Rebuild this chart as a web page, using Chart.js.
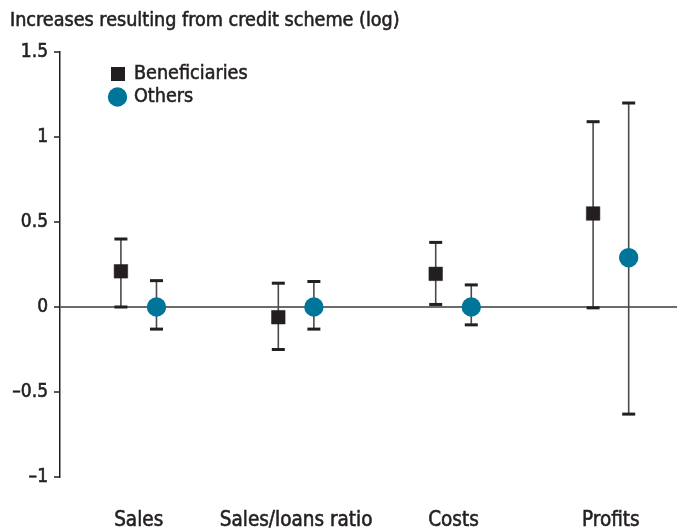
<!DOCTYPE html>
<html>
<head>
<meta charset="utf-8">
<script src="https://cdn.jsdelivr.net/npm/chart.js@4"></script>
<style>
  html, body { margin: 0; padding: 0; background: #fff; }
  #wrap { width: 677px; height: 529px; }
</style>
</head>
<body>
<div id="wrap"><canvas id="chart" width="677" height="529"></canvas></div>
<script>
// Categories and values
const categories = ["Sales", "Sales/loans ratio", "Costs", "Profits"];
const benValues = [0.21, -0.06, 0.195, 0.55];
const benLow = [0.0, -0.25, 0.015, -0.005];
const benHigh = [0.40, 0.14, 0.38, 1.09];
const othValues = [0.0, 0.0, 0.0, 0.29];
const othLow = [-0.13, -0.13, -0.105, -0.63];
const othHigh = [0.155, 0.15, 0.13, 1.20];
const yTicks = [-1, -0.5, 0, 0.5, 1, 1.5];

const FONT = "'DejaVu Sans Condensed', 'DejaVu Sans', sans-serif";
const INK = "#231f20";
const TEAL = "#00759a";
const STROKE = 0.55; // fake a medium weight
const shift = 0.113; // side-by-side offset within a category

function points(values, lo, hi, off) {
  return values.map((v, i) => ({ x: i + off, y: v, lo: lo[i], hi: hi[i] }));
}

// error bars drawn under the markers
const errorBars = {
  id: "errorBars",
  beforeDatasetsDraw(chart) {
    const { ctx, scales: { x, y } } = chart;
    ctx.save();
    chart.data.datasets.forEach((ds) => {
      ds.data.forEach((p) => {
        const px = x.getPixelForValue(p.x);
        const top = y.getPixelForValue(p.hi);
        const bot = y.getPixelForValue(p.lo);
        ctx.strokeStyle = "#4a4a4a";
        ctx.lineWidth = 1.6;
        ctx.beginPath();
        ctx.moveTo(px, top);
        ctx.lineTo(px, bot);
        ctx.stroke();
        ctx.fillStyle = INK;
        ctx.fillRect(px - 6.5, top - 1.5, 13, 3);
        ctx.fillRect(px - 6.5, bot - 1.5, 13, 3);
      });
    });
    ctx.restore();
  },
};

function text(ctx, s, x, y) {
  ctx.strokeText(s, x, y);
  ctx.fillText(s, x, y);
}

// title and legend
const labels = {
  id: "labels",
  afterDraw(chart) {
    const ctx = chart.ctx;
    ctx.save();
    ctx.fillStyle = INK;
    ctx.strokeStyle = INK;
    ctx.lineWidth = STROKE;
    ctx.textBaseline = "middle";
    ctx.textAlign = "left";
    ctx.font = "19.6px " + FONT;
    text(ctx, "Increases resulting from credit scheme (log)", 10, 21);

    ctx.font = "19.6px " + FONT;
    ctx.fillRect(111, 67, 14, 14);
    text(ctx, chart.data.datasets[0].label, 134, 74);
    ctx.fillStyle = TEAL;
    ctx.beginPath();
    ctx.arc(117.5, 97, 9.7, 0, Math.PI * 2);
    ctx.fill();
    ctx.fillStyle = INK;
    text(ctx, chart.data.datasets[1].label, 134, 97);
    ctx.restore();
  },
};

new Chart(document.getElementById("chart"), {
  type: "scatter",
  data: {
    datasets: [
      {
        label: "Beneficiaries",
        data: points(benValues, benLow, benHigh, -shift),
        pointStyle: "rect",
        pointRadius: 9.6,
        backgroundColor: INK,
        borderColor: INK,
        borderWidth: 0.5,
      },
      {
        label: "Others",
        data: points(othValues, othLow, othHigh, shift),
        pointStyle: "circle",
        pointRadius: 9.7,
        backgroundColor: TEAL,
        borderColor: TEAL,
        borderWidth: 0,
      },
    ],
  },
  options: {
    responsive: false,
    animation: false,
    layout: { autoPadding: false, padding: { top: 52, left: 0, right: 0, bottom: 0 } },
    plugins: {
      legend: { display: false },
      tooltip: { enabled: false },
      title: { display: false },
    },
    scales: {
      x: {
        type: "linear",
        min: -0.5,
        max: 3.42,
        grid: { display: false },
        border: { display: false },
        afterBuildTicks: (axis) => {
          axis.ticks = categories.map((c, i) => ({ value: i }));
        },
        afterFit: (axis) => { axis.height = 52; },
        ticks: {
          padding: 23,
          color: INK,
          textStrokeColor: INK,
          textStrokeWidth: STROKE,
          font: { family: FONT, size: 20.5 },
          maxRotation: 0,
          callback: (v) => categories[v],
        },
      },
      y: {
        min: -1,
        max: 1.5,
        afterBuildTicks: (axis) => {
          axis.ticks = yTicks.map((v) => ({ value: v }));
        },
        afterFit: (axis) => { axis.width = 60; },
        border: { display: true, color: INK, width: 1.5 },
        grid: {
          color: (c) => (c.tick && c.tick.value === 0 ? "#6b6b6b" : "rgba(0,0,0,0)"),
          lineWidth: 2,
          tickColor: INK,
          tickLength: 6,
          tickWidth: 1.5,
        },
        ticks: {
          padding: 6,
          color: INK,
          textStrokeColor: INK,
          textStrokeWidth: STROKE,
          font: { family: FONT, size: 19 },
          callback: (v) => (v < 0 ? "\u2013" + Math.abs(v) : String(v)),
        },
      },
    },
  },
  plugins: [errorBars, labels],
});
</script>
</body>
</html>
